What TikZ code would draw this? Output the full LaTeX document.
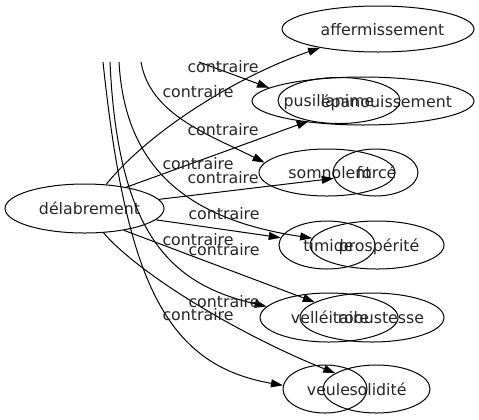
\documentclass[tikz,border=0pt]{standalone}
\usepackage{fontspec}
\setmainfont{DejaVu Sans}
\usetikzlibrary{shapes.geometric,arrows.meta}
\newcommand{\wordsize}{\fontsize{15.8bp}{18bp}\selectfont}

\begin{document}
\begin{tikzpicture}[x=1bp, y=-1bp,
	word/.style={ellipse, draw, line width=1bp, inner sep=0pt},
	txt/.style={inner sep=0pt, text height=12bp, text depth=0bp, font=\wordsize, text=black!85},
	rel/.style={line width=1bp, -{Triangle[length=12bp, width=8bp]}}]

	\useasboundingbox (0,0) rectangle (479,419);

	% source word
	\node [word, minimum width=159bp, minimum height=49bp, label={[txt, xshift=5bp]center:délabrement}] (del) at (84.5,208.5) {};

	% opposite words
	\node [word, minimum width=192bp, minimum height=46bp, label={[txt, xshift=4.5bp]center:affermissement}] (aff) at (378,29) {};
	\node [word, minimum width=222bp, minimum height=48bp, label={[txt, xshift=23.5bp]center:épanouissement}] (epa) at (363,101) {};
	\node [word, minimum width=122bp, minimum height=46bp, label={[txt, xshift=-10bp]center:pusillanime}] (pus) at (339,100.5) {};
	\node [word, minimum width=136bp, minimum height=47bp, label={[txt, xshift=3bp]center:somnolent}] (som) at (327,172.5) {};
	\node [word, minimum width=85bp, minimum height=47bp, label={[txt, xshift=1bp]center:forcé}] (forc) at (375.5,172.5) {};
	\node [word, minimum width=96bp, minimum height=48bp, label={[txt, xshift=1.5bp]center:timide}] (tim) at (327,245) {};
	\node [word, minimum width=134bp, minimum height=48bp, label={[txt, xshift=2bp]center:prospérité}] (pro) at (377,245) {};
	\node [word, minimum width=138bp, minimum height=49bp, label={[txt, xshift=1bp]center:velléitaire}] (vel) at (329,317.5) {};
	\node [word, minimum width=144bp, minimum height=49bp, label={[txt, xshift=9bp]center:robustesse}] (rob) at (372,317.5) {};
	\node [word, minimum width=84bp, minimum height=48bp, label={[txt, xshift=3.5bp]center:veule}] (veu) at (325,389) {};
	\node [word, minimum width=107bp, minimum height=48bp, label={[txt, xshift=1.5bp]center:solidité}] (sol) at (376.5,389) {};

	% loose ends at the top
	\coordinate (topE) at (199,62);
	\coordinate (topS) at (141,62);
	\coordinate (topP) at (119,62);
	\coordinate (topV) at (110,62);
	\coordinate (topU) at (103,62);

	% relations
	\draw [rel] (del.48) .. controls (150,130) and (240,75) .. (aff.198);
	\draw [rel] (topE) -- (epa.172);
	\draw [rel] (del.27) -- (pus.214);
	\draw [rel] (topS) .. controls (150,115) and (210,135) .. (som.171);
	\draw [rel] (del.7) -- (forc.188);
	\draw [rel] (del.351) -- (tim.171);
	\draw [rel] (topP) .. controls (125,170) and (190,220) .. (pro.174);
	\draw [rel] (topV) .. controls (118,240) and (175,285) .. (vel.170);
	\draw [rel] (del.331) -- (rob.165);
	\draw [rel] (topU) .. controls (126,280) and (165,365) .. (veu.175);
	\draw [rel] (del.308) .. controls (140,275) and (240,335) .. (sol.159);

	% relation labels
	\node [txt] (c-epa) at (223,66) {contraire};
	\node [txt] (c-aff) at (198,91) {contraire};
	\node [txt] (c-som) at (223,129) {contraire};
	\node [txt] (c-pus) at (198,163) {contraire};
	\node [txt] (c-forc) at (223,177) {contraire};
	\node [txt] (c-pro) at (224,213) {contraire};
	\node [txt] (c-tim) at (198,239) {contraire};
	\node [txt] (c-rob) at (224,249) {contraire};
	\node [txt] (c-vel) at (224,301) {contraire};
	\node [txt] (c-sol) at (198,314) {contraire};

\end{tikzpicture}
\end{document}
